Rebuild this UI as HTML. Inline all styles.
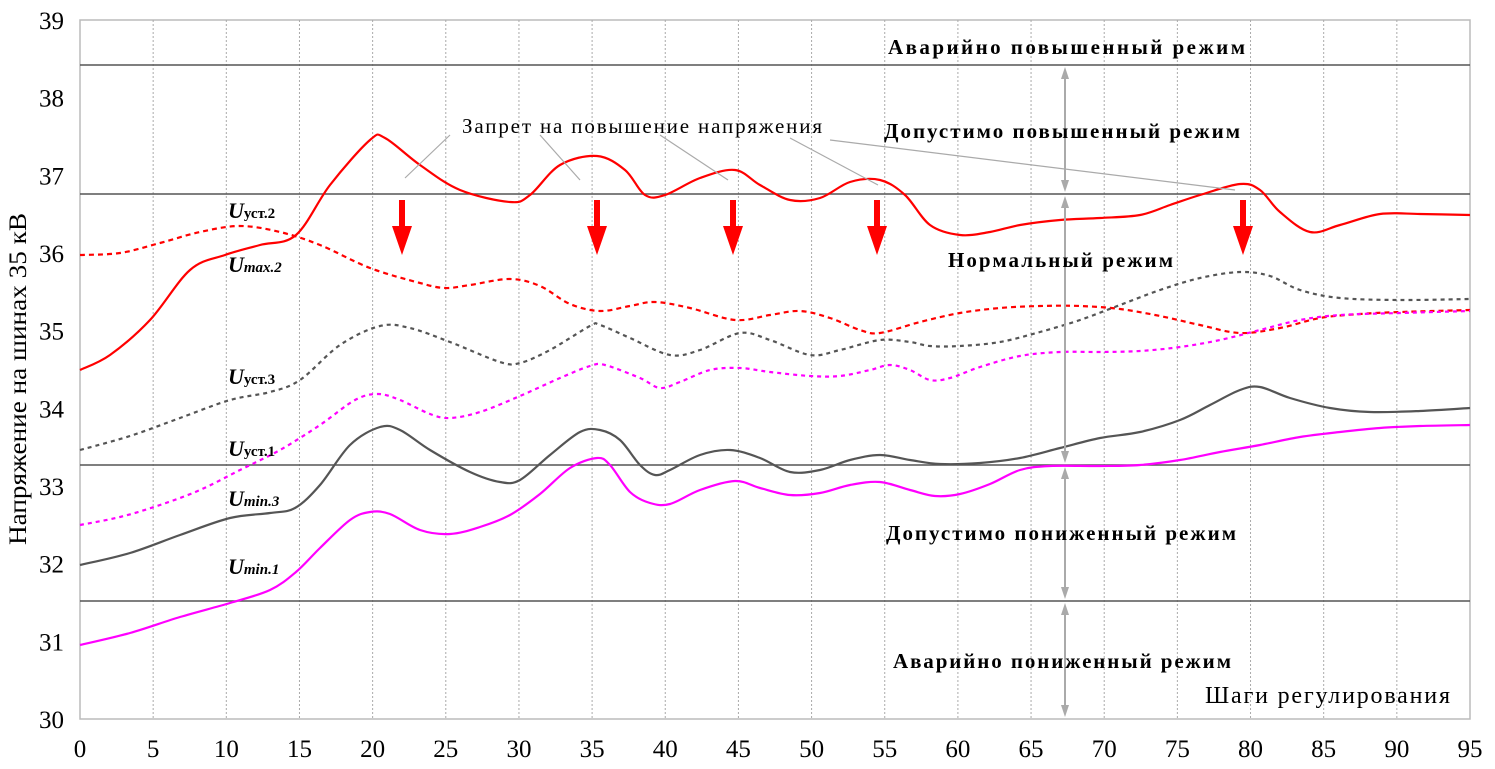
<!DOCTYPE html>
<html><head><meta charset="utf-8"><style>
html,body{margin:0;padding:0;background:#fff}
svg, svg text{font-family:"Liberation Serif",serif}
</style></head><body>
<svg id="s" width="1495" height="764" xmlns="http://www.w3.org/2000/svg" font-family="Liberation Serif, serif">
<rect x="80" y="20" width="1390" height="699" fill="none" stroke="#bbb" stroke-width="1.5"/>
<g id="grid" stroke="#aaa" stroke-width="1" stroke-dasharray="2,2"></g>
<g stroke="#555" stroke-width="1.5">
<line x1="80" y1="65" x2="1470" y2="65"/><line x1="80" y1="194" x2="1470" y2="194"/>
<line x1="80" y1="465" x2="1470" y2="465"/><line x1="80" y1="601" x2="1470" y2="601"/>
</g>
<g id="ticks" font-size="25" fill="#000" font-family="Liberation Serif, serif"></g>
<text transform="translate(26,379) rotate(-90)" text-anchor="middle" font-size="25" textLength="332" lengthAdjust="spacingAndGlyphs">Напряжение на шинах 35 кВ</text>
<g id="curves" fill="none"></g>
<g stroke="#aaa" stroke-width="1.2">
<line x1="450" y1="135" x2="405" y2="178"/><line x1="540" y1="135" x2="580" y2="180"/>
<line x1="660" y1="135" x2="728" y2="180"/><line x1="790" y1="138" x2="878" y2="185"/>
<line x1="830" y1="140" x2="1235" y2="190"/>
</g>
<g id="arr" fill="#f00"></g>
<g id="garr" stroke="#aaa" fill="#aaa" stroke-width="2"></g>
<g font-size="21" font-weight="bold" lengthAdjust="spacing">
<text x="888" y="54" textLength="357">Аварийно повышенный режим</text>
<text x="884" y="138" textLength="356">Допустимо повышенный режим</text>
<text x="948" y="267" textLength="225">Нормальный  режим</text>
<text x="886" y="540" textLength="350">Допустимо пониженный режим</text>
<text x="893" y="668" textLength="338">Аварийно пониженный режим</text>
</g>
<text x="1205" y="703" font-size="24" textLength="245">Шаги регулирования</text>
<text x="462" y="133" font-size="21" textLength="360">Запрет на повышение напряжения</text>
<g font-size="22" font-weight="bold" font-style="italic">
<text x="228" y="218">U<tspan font-style="normal" font-size="15">уст.2</tspan></text>
<text x="228" y="272">U<tspan font-size="15">max.2</tspan></text>
<text x="228" y="384">U<tspan font-style="normal" font-size="15">уст.3</tspan></text>
<text x="228" y="456">U<tspan font-style="normal" font-size="15">уст.1</tspan></text>
<text x="228" y="506">U<tspan font-size="15">min.3</tspan></text>
<text x="228" y="574">U<tspan font-size="15">min.1</tspan></text>
</g>
</svg>
<script>
var NS="http://www.w3.org/2000/svg";function el(p,t,a){var e=document.createElementNS(NS,t);for(var k in a)e.setAttribute(k,a[k]);p.appendChild(e);return e}
var g=document.getElementById('grid'),tk=document.getElementById('ticks');
for(var i=0;i<=95;i+=5){var x=80+i*1390/95;if(i>0&&i<95)el(g,'line',{x1:x,y1:20,x2:x,y2:719});var t=el(tk,'text',{x:x,y:757,'text-anchor':'middle'});t.textContent=i;}
for(var v=30;v<=39;v++){var y=719-(v-30)*699/9;var t=el(tk,'text',{x:64,y:y+9,'text-anchor':'end'});t.textContent=v;}
function path(p){var d="M"+p[0][0]+","+p[0][1];for(var i=0;i<p.length-1;i++){var p0=p[i-1]||p[i],p1=p[i],p2=p[i+1],p3=p[i+2]||p2;d+="C"+(p1[0]+(p2[0]-p0[0])/6)+","+(p1[1]+(p2[1]-p0[1])/6)+" "+(p2[0]-(p3[0]-p1[0])/6)+","+(p2[1]-(p3[1]-p1[1])/6)+" "+p2[0]+","+p2[1];}return d}
function P(a){var r=[];for(var i=0;i<a.length;i+=2)r.push([a[i],a[i+1]]);return r}
var C=[
["#f00","",P([80,370,110,355,150,320,190,270,225,255,260,245,296,235,330,185,370,140,385,138,420,165,460,190,510,202,530,195,560,165,597,156,625,170,645,195,665,195,700,178,735,170,760,185,790,200,820,198,850,182,880,180,905,195,930,225,960,235,990,232,1020,225,1060,220,1100,218,1140,215,1170,205,1200,195,1240,184,1260,190,1280,212,1310,232,1340,225,1380,214,1420,214,1470,215])],
["#f00","5,4",P([80,255,120,253,160,243,200,232,240,226,280,232,320,245,370,268,420,283,445,288,470,285,510,279,540,286,570,304,600,311,630,306,655,302,690,308,735,320,770,315,800,311,830,318,860,330,880,333,920,322,960,313,1000,308,1040,306,1080,306,1120,309,1160,316,1200,325,1240,333,1280,328,1320,318,1360,314,1400,312,1470,310])],
["#555","4,4",P([80,450,130,436,180,418,230,400,270,392,300,380,340,345,380,326,410,328,450,342,500,362,520,363,550,350,590,326,600,325,630,338,670,355,700,350,740,333,770,340,810,355,840,350,880,340,910,342,930,346,960,346,1000,342,1040,332,1080,320,1120,305,1160,290,1200,278,1240,272,1270,276,1300,290,1340,298,1400,300,1470,299])],
["#f0f","4,4",P([80,525,120,517,160,505,200,490,240,470,280,450,320,425,355,400,378,394,400,400,430,414,450,418,480,412,520,396,560,378,590,366,605,365,640,378,660,388,680,382,710,370,740,368,770,372,810,376,840,376,870,370,890,365,910,370,930,380,950,378,980,367,1020,356,1060,352,1100,352,1140,351,1180,347,1220,340,1260,330,1300,320,1340,315,1400,313,1470,311])],
["#555","",P([80,565,130,553,180,535,230,518,270,513,295,508,320,485,350,445,380,427,400,430,430,450,470,472,500,482,520,480,550,455,580,432,600,430,620,440,640,465,655,475,670,470,700,455,730,450,760,458,790,472,820,470,850,460,880,455,910,460,940,464,980,463,1020,458,1060,448,1100,438,1140,432,1180,420,1210,405,1240,390,1260,387,1290,398,1330,408,1370,412,1420,411,1470,408])],
["#f0f","",P([80,645,130,633,180,617,230,603,270,590,296,572,320,548,350,520,370,512,390,514,420,530,450,534,480,527,510,515,540,494,570,468,597,458,610,465,630,492,650,503,670,504,700,490,735,481,760,488,790,495,820,493,850,485,880,482,910,490,935,496,960,494,990,484,1020,470,1050,466,1100,466,1140,465,1180,460,1220,452,1260,445,1300,437,1340,432,1380,428,1420,426,1470,425])]];
var cg=document.getElementById('curves');C.forEach(function(c){var a={d:path(c[2]),stroke:c[0],'stroke-width':2.2};if(c[1])a['stroke-dasharray']=c[1];el(cg,'path',a)});
var ag=document.getElementById('arr');[402,597,733,877,1243].forEach(function(x){el(ag,'rect',{x:x-3,y:200,width:6,height:30});el(ag,'polygon',{points:(x-10)+",226 "+(x+10)+",226 "+x+",255"})});
var gg=document.getElementById('garr');[[65,194],[194,465],[465,601],[601,719]].forEach(function(s){var x=1065;el(gg,'line',{x1:x,y1:s[0]+8,x2:x,y2:s[1]-8});el(gg,'polygon',{points:(x-4)+","+(s[0]+14)+" "+(x+4)+","+(s[0]+14)+" "+x+","+(s[0]+2),'stroke-width':0});el(gg,'polygon',{points:(x-4)+","+(s[1]-14)+" "+(x+4)+","+(s[1]-14)+" "+x+","+(s[1]-2),'stroke-width':0})});
</script>
</body></html>
